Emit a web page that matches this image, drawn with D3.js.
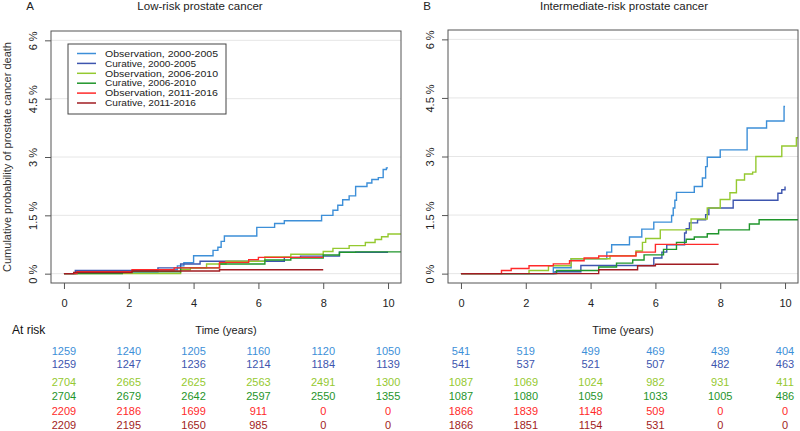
<!DOCTYPE html>
<html>
<head>
<meta charset="utf-8">
<script src="https://cdn.jsdelivr.net/npm/d3@7"></script>
<style>
  body { margin: 0; background: #fff; }
  svg { display: block; font-family: "Liberation Sans", Arial, sans-serif; }
</style>
</head>
<body>
<svg id="chart" width="800" height="431"></svg>
<script>
// ---------------- DATA ----------------
const seriesNames = [
  "Observation, 2000-2005", "Curative, 2000-2005",
  "Observation, 2006-2010", "Curative, 2006-2010",
  "Observation, 2011-2016", "Curative, 2011-2016"
];
const seriesColors = ["#3d8fd8", "#3d55ae", "#95c930", "#1f952b", "#ff2a2a", "#a11c22"];
const xTicks = [0, 2, 4, 6, 8, 10];
const yTicks = [0, 1.5, 3, 4.5, 6];
const yTickLabels = ["0 %", "1.5 %", "3 %", "4.5 %", "6 %"];
const panelLetters = ["A", "B"];
const panelTitles = ["Low-risk prostate cancer", "Intermediate-risk prostate cancer"];

// Panel A: [time (years), cumulative probability %]
const lowObs0005 = [[0,0],[0.4,0.05],[2.9,0.1],[3.5,0.2],[3.7,0.28],[4.0,0.46],[4.6,0.6],[4.75,0.68],[4.85,0.83],[4.95,0.97],[5.95,1.19],[6.5,1.29],[6.8,1.36],[7.95,1.5],[8.3,1.63],[8.45,1.76],[8.6,1.9],[8.8,2.0],[9.0,2.24],[9.35,2.33],[9.5,2.42],[9.7,2.47],[9.85,2.68],[9.95,2.72],[10.0,2.72]];
const lowCur0005 = [[0,0],[0.35,0.08],[2.9,0.15],[3.6,0.25],[4.2,0.32],[6.8,0.42],[7.3,0.45],[8.5,0.55],[10.0,0.55]];
const lowObs0610 = [[0,0],[3.6,0.1],[3.9,0.15],[4.4,0.25],[5.0,0.32],[6.2,0.43],[7.0,0.5],[8.0,0.57],[8.3,0.65],[8.8,0.72],[9.3,0.8],[9.6,0.88],[9.8,0.95],[10.0,1.02],[10.4,1.02]];
const lowCur0610 = [[0,0],[1.8,0.05],[3.6,0.15],[4.8,0.25],[6.2,0.35],[7.0,0.4],[8.0,0.48],[8.5,0.55],[9.0,0.56],[10.4,0.56]];
const lowObs1116 = [[0,0],[0.4,0.05],[2.1,0.1],[3.4,0.15],[4.8,0.29],[5.7,0.36],[6.0,0.42],[8.0,0.42]];
const lowCur1116 = [[0,0],[0.3,0.03],[2.1,0.07],[4.8,0.1],[8.0,0.1]];

// Panel B
const intObs0005 = [[0,0],[2.85,0.15],[3.4,0.38],[4.5,0.55],[4.65,0.74],[5.2,0.94],[5.58,1.14],[5.95,1.32],[6.5,1.49],[6.55,1.68],[6.6,1.88],[6.65,2.08],[7.2,2.23],[7.45,2.45],[7.55,2.74],[7.6,2.98],[8.0,3.17],[8.55,3.17],[8.83,3.73],[9.43,3.91],[9.97,4.28],[10.0,4.28]];
const intCur0005 = [[0,0],[2.9,0.05],[3.7,0.21],[5.95,0.4],[6.2,0.55],[6.35,0.74],[6.9,1.04],[6.95,1.15],[7.05,1.3],[7.3,1.38],[7.55,1.51],[7.65,1.68],[8.4,1.88],[9.78,2.06],[9.9,2.15],[10.0,2.23]];
const intObs0610 = [[0,0],[2.1,0.08],[2.7,0.2],[3.4,0.38],[4.6,0.46],[5.4,0.58],[5.6,0.8],[5.7,0.9],[6.15,1.12],[7.1,1.4],[7.6,1.68],[8.0,1.9],[8.3,2.07],[8.5,2.4],[8.75,2.55],[9.0,2.6],[9.1,3.0],[9.9,3.27],[10.35,3.48],[10.4,3.48]];
const intCur0610 = [[0,0],[2.95,0.08],[4.25,0.17],[4.8,0.27],[5.3,0.35],[5.65,0.48],[6.25,0.62],[6.65,0.8],[6.95,0.88],[7.2,0.94],[7.6,1.02],[7.95,1.12],[8.9,1.27],[9.2,1.38],[10.4,1.38]];
const intObs1116 = [[0,0],[1.25,0.08],[1.55,0.13],[2.1,0.2],[2.85,0.25],[3.35,0.33],[3.8,0.4],[4.25,0.45],[5.4,0.55],[6.0,0.75],[7.95,0.75]];
const intCur1116 = [[0,0],[4.25,0.1],[5.45,0.2],[6.0,0.24],[7.95,0.24]];

// Numbers at risk (rows follow seriesNames order, columns follow xTicks)
const lowAtRisk = [
  [1259, 1240, 1205, 1160, 1120, 1050],
  [1259, 1247, 1236, 1214, 1184, 1139],
  [2704, 2665, 2625, 2563, 2491, 1300],
  [2704, 2679, 2642, 2597, 2550, 1355],
  [2209, 2186, 1699, 911, 0, 0],
  [2209, 2195, 1650, 985, 0, 0]
];
const intAtRisk = [
  [541, 519, 499, 469, 439, 404],
  [541, 537, 521, 507, 482, 463],
  [1087, 1069, 1024, 982, 931, 411],
  [1087, 1080, 1059, 1033, 1005, 486],
  [1866, 1839, 1148, 509, 0, 0],
  [1866, 1851, 1154, 531, 0, 0]
];

// ---------------- DRAW ----------------
const svg = d3.select("#chart");
const panels = [
  { left: 51, right: 401, top: 31, bottom: 283, series: [lowObs0005, lowCur0005, lowObs0610, lowCur0610, lowObs1116, lowCur1116], atRisk: lowAtRisk, letterX: 30, titleX: 200, yLabelX: 33, ytitle: true },
  { left: 448, right: 798, top: 30, bottom: 283, series: [intObs0005, intCur0005, intObs0610, intCur0610, intObs1116, intCur1116], atRisk: intAtRisk, letterX: 427, titleX: 624, yLabelX: 430, ytitle: false }
];
const atRiskRowY = [351, 364, 382, 396, 411, 425];

panels.forEach((p, pi) => {
  const x = d3.scaleLinear().domain([-0.4, 10.4]).range([p.left, p.right]);
  const y = d3.scaleLinear().domain([-0.24, 6.24]).range([p.bottom, p.top]);
  const g = svg.append("g");

  // gridlines
  g.selectAll("line.grid").data(yTicks).enter().append("line")
    .attr("x1", p.left).attr("x2", p.right)
    .attr("y1", d => y(d)).attr("y2", d => y(d))
    .attr("stroke", "#e6e6e6").attr("stroke-width", 1);

  // curves
  const line = d3.line().x(d => x(d[0])).y(d => y(d[1])).curve(d3.curveStepAfter);
  p.series.forEach((s, i) => {
    g.append("path").datum(s).attr("d", line)
      .attr("fill", "none").attr("stroke", seriesColors[i]).attr("stroke-width", 1.4);
  });

  // box
  g.append("rect").attr("x", p.left).attr("y", p.top)
    .attr("width", p.right - p.left).attr("height", p.bottom - p.top)
    .attr("fill", "none").attr("stroke", "#555").attr("stroke-width", 1);

  // x axis
  const xa = g.append("g").attr("transform", `translate(0,${p.bottom})`)
    .call(d3.axisBottom(x).tickValues(xTicks).tickSize(6).tickPadding(10));
  xa.select(".domain").remove();
  xa.selectAll("line").attr("stroke", "#555");
  xa.selectAll("text").attr("font-size", 11).attr("fill", "#222")
    .attr("font-family", "Liberation Sans, Arial, sans-serif");

  // y axis
  const ya = g.append("g").attr("transform", `translate(${p.left},0)`)
    .call(d3.axisLeft(y).tickValues(yTicks).tickSize(6).tickFormat((d, i) => yTickLabels[i]));
  ya.select(".domain").remove();
  ya.selectAll("line").attr("stroke", "#555");
  ya.selectAll("text").attr("font-size", 11).attr("fill", "#222")
    .attr("font-family", "Liberation Sans, Arial, sans-serif")
    .attr("text-anchor", "middle")
    .attr("x", 0).attr("dy", null)
    .attr("transform", `translate(${p.yLabelX - p.left + 4},0) rotate(-90)`)
    .attr("y", 0);

  // titles
  g.append("text").attr("x", p.letterX).attr("y", 10).attr("text-anchor", "middle")
    .attr("font-size", 11.5).attr("fill", "#222").text(panelLetters[pi]);
  g.append("text").attr("x", p.titleX).attr("y", 10).attr("text-anchor", "middle")
    .attr("font-size", 11.5).attr("fill", "#222").text(panelTitles[pi]);

  // x title
  g.append("text").attr("x", (p.left + p.right) / 2).attr("y", 334).attr("text-anchor", "middle")
    .attr("font-size", 11).attr("fill", "#222").text("Time (years)");

  // y title
  if (p.ytitle) {
    g.append("text").attr("transform", `translate(11,${y(3)}) rotate(-90)`)
      .attr("text-anchor", "middle").attr("font-size", 11).attr("fill", "#333")
      .text("Cumulative probability of prostate cancer death");
  }

  // at risk numbers
  p.atRisk.forEach((row, ri) => {
    g.selectAll(null).data(row).enter().append("text")
      .attr("x", (d, ci) => x(xTicks[ci]))
      .attr("y", atRiskRowY[ri] + 4)
      .attr("text-anchor", "middle").attr("font-size", 11)
      .attr("fill", seriesColors[ri])
      .text(d => d);
  });
});

// At risk label
svg.append("text").attr("x", 12).attr("y", 334).attr("font-size", 12)
  .attr("fill", "#111").text("At risk");

// Legend
const leg = svg.append("g");
leg.append("rect").attr("x", 68).attr("y", 44).attr("width", 158).attr("height", 70)
  .attr("fill", "#fff").attr("stroke", "#444").attr("stroke-width", 1);
seriesNames.forEach((n, i) => {
  const yy = 53.5 + i * 9.9;
  leg.append("line").attr("x1", 77).attr("x2", 96).attr("y1", yy).attr("y2", yy)
    .attr("stroke", seriesColors[i]).attr("stroke-width", 1.5);
  leg.append("text").attr("x", 105).attr("y", yy + 3.2).attr("font-size", 8.7)
    .attr("textLength", n.length > 20 ? 113 : 91).attr("lengthAdjust", "spacingAndGlyphs")
    .attr("fill", "#222").text(n);
});
</script>
</body>
</html>
